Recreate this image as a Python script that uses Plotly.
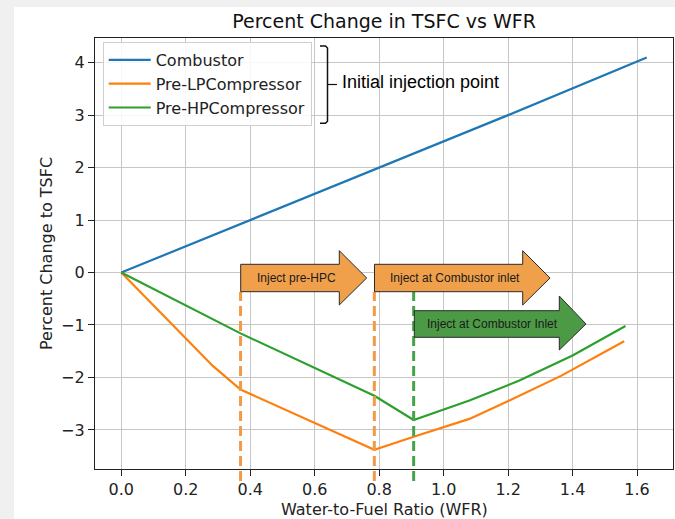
import plotly.graph_objects as go

# ---------------- data ----------------
wfr_combustor = [0.0, 0.4, 0.8, 1.2, 1.63]
tsfc_combustor = [0.0, 1.0, 2.0, 3.0, 4.1]

wfr_pre_lpc = [0.0, 0.284, 0.37, 0.785, 0.907, 1.08, 1.204, 1.364, 1.56]
tsfc_pre_lpc = [0.0, -1.78, -2.23, -3.38, -3.13, -2.79, -2.44, -1.97, -1.31]

wfr_pre_hpc = [0.0, 0.37, 0.785, 0.907, 1.08, 1.235, 1.40, 1.564]
tsfc_pre_hpc = [0.0, -1.16, -2.35, -2.81, -2.44, -2.06, -1.58, -1.02]

series_names = ["Combustor", "Pre-LPCompressor", "Pre-HPCompressor"]

switch_wfr_lpc = [0.37, 0.785]   # orange dashed markers
switch_wfr_hpc = [0.907]         # green dashed marker

x_ticks = [0.0, 0.2, 0.4, 0.6, 0.8, 1.0, 1.2, 1.4, 1.6]
y_ticks = [-3, -2, -1, 0, 1, 2, 3, 4]

# ---------------- styles ----------------
BLUE, ORANGE, GREEN = "#1f77b4", "#ff7f0e", "#2ca02c"
ARROW_ORANGE, ARROW_GREEN = "#F0A04B", "#4C9A45"
DASH_ORANGE, DASH_GREEN = "#F29A45", "#45A349"
MPL_FONT = "DejaVu Sans"
ANN_FONT = "Liberation Sans, Arial, sans-serif"

W, H = 675, 519
L, R, T, B = 95, 673, 38, 469  # plot area in pixels


def P(x, y):
    """pixel position -> paper coordinates"""
    return ((x - L) / (R - L), (B - y) / (B - T))


fig = go.Figure()
for xs, ys, name, col in [
    (wfr_combustor, tsfc_combustor, series_names[0], BLUE),
    (wfr_pre_lpc, tsfc_pre_lpc, series_names[1], ORANGE),
    (wfr_pre_hpc, tsfc_pre_hpc, series_names[2], GREEN),
]:
    fig.add_trace(go.Scatter(x=xs, y=ys, mode="lines", name=name,
                             line=dict(color=col, width=2.2)))

shapes = []
# white figure face over grey border
shapes.append(dict(type="rect", xref="paper", yref="paper", layer="below",
                   x0=P(14, 0)[0], x1=P(680, 0)[0], y0=P(0, 525)[1], y1=P(0, 7)[1],
                   fillcolor="white", line=dict(width=0)))

# dashed vertical injection-switch lines
y_top = P(0, 292)[1]
y_bot = P(0, 481)[1]
for xv in switch_wfr_lpc:
    shapes.append(dict(type="line", xref="x", yref="paper", x0=xv, x1=xv,
                       y0=y_bot, y1=y_top,
                       line=dict(color=DASH_ORANGE, width=3, dash="10px,5px")))
for xv in switch_wfr_hpc:
    shapes.append(dict(type="line", xref="x", yref="paper", x0=xv, x1=xv,
                       y0=y_bot, y1=y_top,
                       line=dict(color=DASH_GREEN, width=3, dash="10px,5px")))


def arrow_path(left, top, bottom, hbase, htop, hbot, tip):
    midy = (top + bottom) / 2
    pts = [(left, top), (hbase, top), (hbase, htop), (tip, midy),
           (hbase, hbot), (hbase, bottom), (left, bottom)]
    pp = [P(x, y) for x, y in pts]
    return "M " + " L ".join(f"{a:.5f},{b:.5f}" for a, b in pp) + " Z"


arrows = [
    (240.7, 264.3, 291.7, 339.3, 250.7, 305.0, 366.7, ARROW_ORANGE, "Inject pre-HPC"),
    (374.5, 264.3, 291.7, 522.7, 250.7, 305.0, 550.0, ARROW_ORANGE, "Inject at Combustor inlet"),
    (414.3, 310.7, 337.3, 559.3, 296.0, 350.0, 586.0, ARROW_GREEN, "Inject at Combustor Inlet"),
]
annotations = []
for left, top, bottom, hb, ht, hbot, tip, col, txt in arrows:
    shapes.append(dict(type="path", xref="paper", yref="paper",
                       path=arrow_path(left, top, bottom, hb, ht, hbot, tip),
                       fillcolor=col, line=dict(color="#2a2a2a", width=1)))
    cx, cy = P((left + hb) / 2 + 6, (top + bottom) / 2 - 0.5)
    annotations.append(dict(xref="paper", yref="paper", x=cx, y=cy,
                            text=txt, showarrow=False,
                            xanchor="center", yanchor="middle",
                            font=dict(family=ANN_FONT, size=12, color="#1a1a1a")))

# bracket for legend
bx, bl = 327.5, 320.0
btop, bbot, bmid = 46.0, 123.3, 84.5
bp = [(bl, btop), (bx - 2, btop), (bx, btop + 2), (bx, bbot - 2), (bx - 2, bbot), (bl, bbot)]
path = "M " + " L ".join("{:.5f},{:.5f}".format(*P(x, y)) for x, y in bp)
shapes.append(dict(type="path", xref="paper", yref="paper", path=path,
                   line=dict(color="#111111", width=1.5)))
a0, a1 = P(bx, bmid), P(337, bmid)
shapes.append(dict(type="line", xref="paper", yref="paper",
                   x0=a0[0], y0=a0[1], x1=a1[0], y1=a1[1],
                   line=dict(color="#111111", width=1.2)))
tx, ty = P(339.5, 82)
annotations.append(dict(xref="paper", yref="paper", x=tx, y=ty,
                        text="Initial injection point", showarrow=False,
                        xanchor="left", yanchor="middle",
                        font=dict(family=ANN_FONT, size=18, color="#000000")))

# axis titles as annotations (fixed pixel positions)
xt = P((L + R) / 2, 509)
annotations.append(dict(xref="paper", yref="paper", x=xt[0], y=xt[1],
                        text="Water-to-Fuel Ratio (WFR)", showarrow=False,
                        xanchor="center", yanchor="middle",
                        font=dict(family=MPL_FONT, size=16, color="#222")))
yt = P(46.5, (T + B) / 2)
annotations.append(dict(xref="paper", yref="paper", x=yt[0], y=yt[1],
                        text="Percent Change to TSFC", showarrow=False,
                        textangle=-90, xanchor="center", yanchor="middle",
                        font=dict(family=MPL_FONT, size=16, color="#222")))

lx, ly = P(102.7, 42)
fig.update_layout(
    width=W, height=H, autosize=False,
    margin=dict(l=L, r=W - R, t=T, b=H - B, pad=0, autoexpand=False),
    paper_bgcolor="#f0f0f0", plot_bgcolor="white",
    title=dict(text="Percent Change in TSFC vs WFR", x=(L + R) / 2 / W,
               xanchor="center", y=1 - 21 / H, yanchor="middle",
               font=dict(family=MPL_FONT, size=19, color="#111111"),
               automargin=False),
    font=dict(family=MPL_FONT, color="#111111"),
    showlegend=True,
    legend=dict(x=lx, y=ly, xanchor="left", yanchor="top",
                bgcolor="rgba(255,255,255,0.85)", bordercolor="#cfcfcf",
                borderwidth=1, font=dict(family=MPL_FONT, size=16, color="#222"),
                itemwidth=42),
    shapes=shapes, annotations=annotations,
)
fig.update_xaxes(range=[-0.0815, 1.7115], tickvals=x_ticks,
                 ticktext=[f"{v:.1f}" for v in x_ticks],
                 showgrid=True, gridcolor="#c6c6c6", gridwidth=1,
                 zeroline=False, showline=True, mirror=True,
                 linecolor="#222222", linewidth=1.2, automargin=False,
                 ticks="outside", ticklen=6, tickcolor="#222222",
                 tickfont=dict(family=MPL_FONT, size=16, color="#222"))
fig.update_yaxes(range=[-3.745, 4.47], tickvals=y_ticks,
                 ticktext=[(f"\u2212{abs(v)}" if v < 0 else str(v)) for v in y_ticks],
                 showgrid=True, gridcolor="#c6c6c6", gridwidth=1,
                 zeroline=False, showline=True, mirror=True,
                 linecolor="#222222", linewidth=1.2, automargin=False,
                 ticks="outside", ticklen=6, tickcolor="#222222",
                 tickfont=dict(family=MPL_FONT, size=16, color="#222"))

fig.write_html(
    "out.html",
    config={"displayModeBar": False},
    post_script="document.body.style.margin='0';document.body.style.padding='0';"
                "document.documentElement.style.overflow='hidden';",
)
